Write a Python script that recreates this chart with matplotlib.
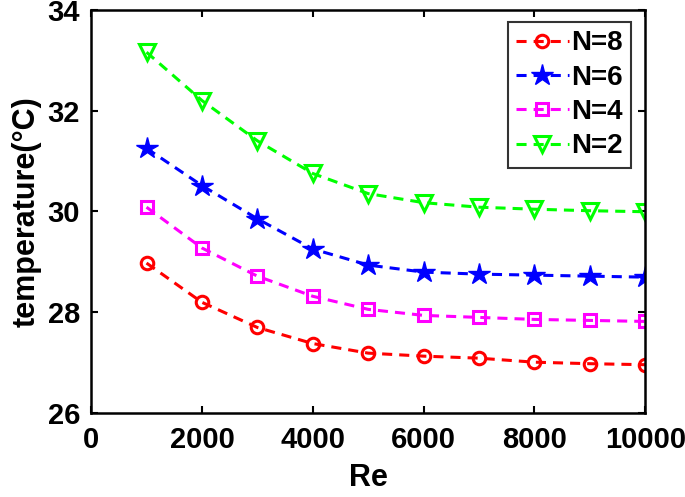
import matplotlib
matplotlib.use('Agg')
import matplotlib.pyplot as plt

plt.rcParams['font.family'] = ['Liberation Sans', 'DejaVu Sans']
plt.rcParams['font.weight'] = 'bold'

re = [1000, 2000, 3000, 4000, 5000, 6000, 7000, 8000, 9000, 10000]
t_n8 = [28.97, 28.19, 27.69, 27.37, 27.18, 27.12, 27.08, 27.00, 26.97, 26.95]
t_n6 = [31.25, 30.51, 29.85, 29.25, 28.93, 28.79, 28.75, 28.73, 28.71, 28.69]
t_n4 = [30.08, 29.27, 28.71, 28.31, 28.05, 27.93, 27.89, 27.85, 27.83, 27.81]
t_n2 = [33.16, 32.20, 31.40, 30.75, 30.35, 30.17, 30.08, 30.04, 30.01, 29.99]

xticks = [0, 2000, 4000, 6000, 8000, 10000]
yticks = [26, 28, 30, 32, 34]

fig = plt.figure(figsize=(6.85, 4.97), dpi=100)
ax = fig.add_axes([0.133, 0.170, 0.809, 0.810])

dash = (0, (3.3, 2.3))
ax.plot(re, t_n8, color='red', linestyle=dash, lw=2.2, marker='o', ms=9,
        mfc='none', mew=2.2, label='N=8')
ax.plot(re, t_n6, color='blue', linestyle=dash, lw=2.2, marker='*', ms=16,
        label='N=6')
ax.plot(re, t_n4, color='magenta', linestyle=dash, lw=2.2, marker='s', ms=9,
        mfc='none', mew=2.2, label='N=4')
ax.plot(re, t_n2, color='lime', linestyle=dash, lw=2.2, marker='v', ms=12,
        mfc='none', mew=2.2, label='N=2')

ax.set_xlim(0, 10000)
ax.set_ylim(26, 34)
ax.set_xticks(xticks)
ax.set_yticks(yticks)
ax.tick_params(direction='in', top=True, right=True, length=5, width=1.5,
               labelsize=21, pad=8)
ax.tick_params(axis='x', pad=10)
for s in ax.spines.values():
    s.set_linewidth(1.8)

ax.set_xlabel('Re', fontsize=22, fontweight='bold', labelpad=6)
ax.set_ylabel('temperature(°C)', fontsize=22, fontweight='bold', labelpad=4)

leg = ax.legend(loc='upper right', bbox_to_anchor=(0.975, 0.97), fontsize=20,
                frameon=True, fancybox=False, edgecolor='black',
                handlelength=1.9, handletextpad=0.1, borderpad=0.3,
                labelspacing=0.3, borderaxespad=0.0)
leg.get_frame().set_linewidth(1.5)

fig.savefig('out.png', dpi=100)
